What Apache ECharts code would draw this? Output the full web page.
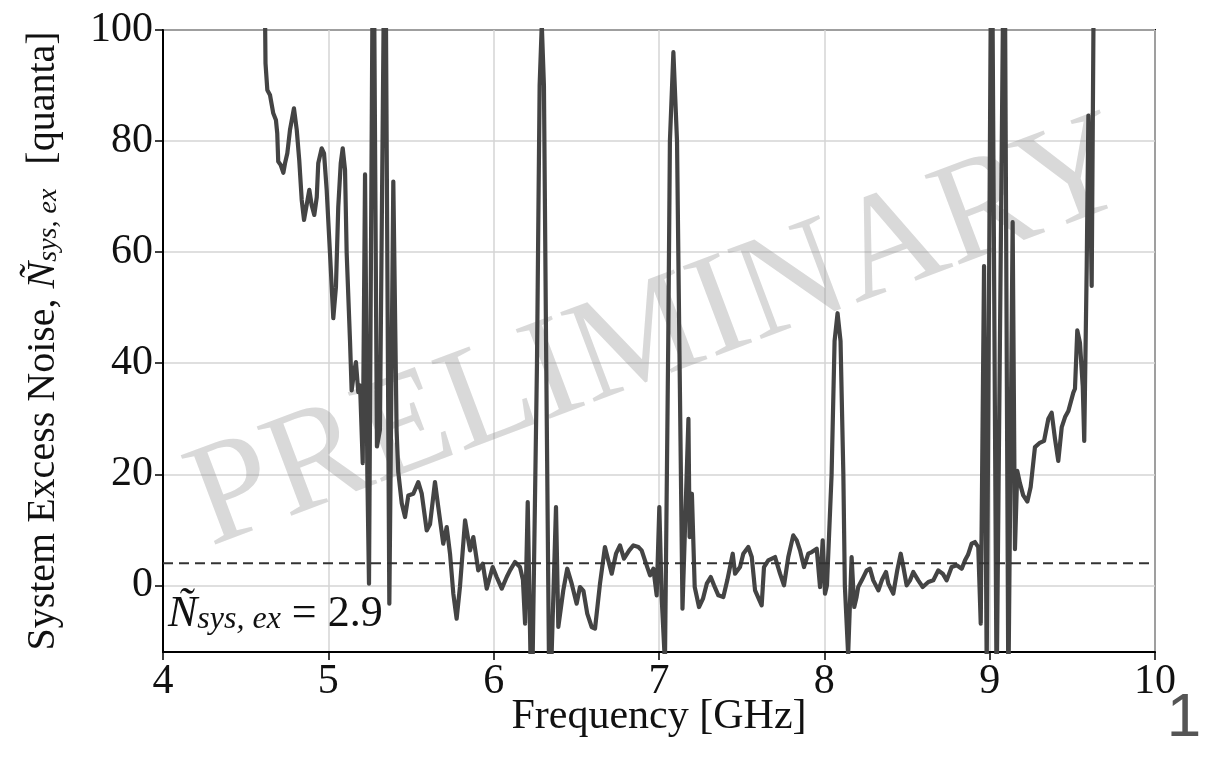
<!DOCTYPE html>
<html>
<head>
<meta charset="utf-8">
<script src="https://cdn.jsdelivr.net/npm/echarts@6/dist/echarts.min.js"></script>
<style>
  html, body { margin: 0; padding: 0; background: #fff; }
  #chart { width: 1209px; height: 758px; }
</style>
</head>
<body>
<div id="chart"></div>
<script>
// Measured system excess noise vs. frequency
const freqGHz = [
  4.612, 4.620, 4.631, 4.647, 4.667, 4.683, 4.691, 4.697, 4.712, 4.728,
  4.738, 4.752, 4.768, 4.792, 4.809, 4.824, 4.839, 4.853, 4.869, 4.885,
  4.899, 4.915, 4.930, 4.939, 4.960, 4.974, 4.990, 5.010, 5.030, 5.046,
  5.060, 5.075, 5.087, 5.101, 5.111, 5.131, 5.141, 5.156, 5.167, 5.181,
  5.192, 5.208, 5.222, 5.236, 5.246, 5.272, 5.294, 5.312, 5.343, 5.369,
  5.393, 5.413, 5.423, 5.444, 5.464, 5.484, 5.514, 5.544, 5.565, 5.595,
  5.615, 5.645, 5.665, 5.695, 5.716, 5.736, 5.756, 5.776, 5.796, 5.827,
  5.857, 5.877, 5.907, 5.934, 5.958, 5.994, 6.018, 6.049, 6.079, 6.099,
  6.129, 6.159, 6.177, 6.190, 6.206, 6.230, 6.262, 6.278, 6.291, 6.304,
  6.318, 6.338, 6.356, 6.377, 6.391, 6.421, 6.445, 6.472, 6.502, 6.522,
  6.543, 6.566, 6.593, 6.613, 6.643, 6.673, 6.693, 6.714, 6.740, 6.764,
  6.788, 6.820, 6.845, 6.875, 6.895, 6.915, 6.946, 6.966, 6.986, 7.002,
  7.016, 7.036, 7.056, 7.066, 7.087, 7.109, 7.123, 7.142, 7.178, 7.185,
  7.199, 7.216, 7.242, 7.266, 7.289, 7.313, 7.333, 7.359, 7.389, 7.413,
  7.446, 7.460, 7.490, 7.510, 7.540, 7.561, 7.581, 7.621, 7.635, 7.661,
  7.702, 7.732, 7.756, 7.782, 7.812, 7.833, 7.853, 7.877, 7.903, 7.924,
  7.954, 7.974, 7.990, 8.004, 8.016, 8.044, 8.062, 8.080, 8.098, 8.115,
  8.124, 8.144, 8.165, 8.181, 8.195, 8.205, 8.228, 8.256, 8.276, 8.296,
  8.327, 8.349, 8.373, 8.387, 8.417, 8.441, 8.462, 8.478, 8.498, 8.518,
  8.538, 8.568, 8.595, 8.629, 8.659, 8.689, 8.716, 8.740, 8.770, 8.801,
  8.831, 8.851, 8.869, 8.891, 8.911, 8.931, 8.946, 8.966, 8.982, 9.012,
  9.042, 9.089, 9.113, 9.139, 9.153, 9.167, 9.183, 9.203, 9.228, 9.248,
  9.274, 9.300, 9.329, 9.355, 9.375, 9.395, 9.415, 9.436, 9.456, 9.476,
  9.506, 9.516, 9.530, 9.546, 9.563, 9.572, 9.587, 9.597, 9.607, 9.617,
  9.631
];
const excessNoise = [
  118, 94, 89.2, 88.3, 85, 83.8, 81.4, 76.3, 75.7, 74.3,
  76, 77.8, 82, 85.9, 82, 76.6, 69.4, 65.8, 68.5, 71.2,
  68.5, 66.7, 69.9, 76, 78.7, 77.8, 71.2, 59.8, 48.1, 53.7,
  68.1, 76, 78.7, 74.8, 59.8, 44.1, 35.1, 38.5, 40.2, 34.8,
  36, 22, 74, 20, 0.3, 130, 25, 28, 130, -3.3,
  72.7, 27.8, 20.4, 14.8, 12.3, 16.2, 16.5, 18.6, 16.5, 9.9,
  11, 18.6, 14.1, 7.5, 10.5, 5.7, -1.5, -6, -0.3, 11.7,
  6.3, 8.7, 2.7, 3.9, -0.6, 3.3, 1.5, -0.6, 1.5, 2.7,
  4.2, 3.3, 1, -6.9, 15, -25, 40, 90, 101, 90,
  40, -25, -6.9, 14.1, -7.5, -0.9, 3, 0.3, -3.3, -0.3,
  -1, -5.1, -7.5, -7.8, 0.3, 6.9, 4.5, 2.1, 5.7, 7.2,
  4.8, 6.3, 7.2, 6.9, 6.3, 4.5, 1.8, 3, -1.8, 14.1,
  -2.1, -14, 44, 80, 96, 80, 44, -4.2, 30, 8.7,
  16.5, -0.3, -3.9, -2.4, 0.3, 1.5, 0, -1.8, -2.1, 0.9,
  5.7, 2.1, 3.3, 5.7, 6.9, 5.1, -0.9, -3.6, 3.3, 4.5,
  5.1, 2.1, 0, 5.1, 9, 8.1, 6.3, 3.3, 5.7, 6,
  6.6, -0.3, 8.1, -1.5, 0, 20, 44, 49, 44, 20,
  0, -12.5, 5.1, -3.9, -2.1, -0.3, 1, 2.7, 3, 0.9,
  -0.9, 1, 2.4, 0.3, -1.5, 2.7, 5.7, 3.3, 0, 0.9,
  2.4, 0.9, -0.3, 0.6, 0.9, 2.7, 2.1, 0.9, 3.3, 3.6,
  3, 4.5, 5.5, 7.5, 7.8, 6.9, -6.9, 57.5, -15, 130,
  -20, 130, -20, 65.4, 6.5, 20.6, 18.4, 16.2, 15.1, 17.7,
  24.9, 25.6, 26, 30, 31.1, 26.4, 22.4, 28.5, 30.3, 31.4,
  34.7, 35.4, 45.9, 43.7, 35.8, 26, 57.5, 84.6, 75, 53.9,
  115
];

// Reference level drawn as a dashed line, and the quoted median value
const referenceLevel = 4.0;
const quotedNoise = 2.9;

// Axis ranges and tick labels
const xRange = [4, 10];
const yRange = [-12, 100];
const xTicks = [4, 5, 6, 7, 8, 9, 10];
const yTicks = [0, 20, 40, 60, 80, 100];

const serif = '"Liberation Serif", "DejaVu Serif", serif';
const ink = '#111';

const noiseData = freqGHz.map((f, i) => [f, excessNoise[i]]);
const levelData = [[xRange[0], referenceLevel], [xRange[1], referenceLevel]];

const chart = echarts.init(document.getElementById('chart'), null, { renderer: 'canvas' });

chart.setOption({
  animation: false,
  backgroundColor: '#ffffff',
  grid: {
    left: 163, right: 54, top: 30, bottom: 106,
    show: true, borderColor: '#000', borderWidth: 2, backgroundColor: 'transparent'
  },
  xAxis: {
    type: 'value',
    min: xRange[0], max: xRange[1], interval: 1,
    name: 'Frequency [GHz]',
    nameLocation: 'middle',
    nameGap: 44,
    nameMoveOverlap: false,
    nameTextStyle: { fontFamily: serif, fontSize: 42, color: ink, verticalAlign: 'top' },
    axisLine: { show: true, onZero: false, lineStyle: { color: '#000', width: 2 } },
    axisTick: { show: true, inside: false, length: 8, lineStyle: { color: '#000', width: 1.5 }, customValues: xTicks },
    axisLabel: { fontFamily: serif, fontSize: 42, color: ink, margin: 9, customValues: xTicks },
    splitLine: { show: true, lineStyle: { color: '#d4d4d4', width: 1.5 } }
  },
  yAxis: {
    type: 'value',
    min: yRange[0], max: yRange[1],
    name: 'System Excess Noise, {it|Ñ}{sub|sys, ex} [quanta]',
    nameLocation: 'middle',
    nameRotate: 90,
    nameGap: 100,
    nameTextStyle: {
      fontFamily: serif, fontSize: 40, color: ink,
      rich: {
        it: { fontFamily: serif, fontSize: 40, fontStyle: 'italic', color: ink },
        sub: { fontFamily: serif, fontSize: 28, fontStyle: 'italic', color: ink, verticalAlign: 'bottom', padding: [0, 14, 0, 0] }
      }
    },
    axisLine: { show: true, onZero: false, lineStyle: { color: '#000', width: 2 } },
    axisTick: { show: true, inside: false, length: 8, lineStyle: { color: '#000', width: 1.5 }, customValues: yTicks },
    axisLabel: { fontFamily: serif, fontSize: 42, color: ink, margin: 10, customValues: yTicks },
    splitLine: { show: true, lineStyle: { color: '#d4d4d4', width: 1.5 } }
  },
  graphic: [
    {
      type: 'text',
      x: 660, y: 336,
      rotation: 0.36,
      z: 1,
      silent: true,
      style: {
        text: 'PRELIMINARY',
        fontFamily: serif, fontSize: 146,
        fill: 'rgba(150,150,150,0.36)',
        align: 'center', verticalAlign: 'middle'
      }
    },
    {
      type: 'text',
      left: 168, top: 592,
      z: 10,
      style: {
        text: '{it|Ñ}{sub|sys, ex}{n| = ' + quotedNoise + '}',
        rich: {
          it: { fontFamily: serif, fontSize: 44, fontStyle: 'italic', fill: ink },
          sub: { fontFamily: serif, fontSize: 32, fontStyle: 'italic', fill: ink, verticalAlign: 'bottom' },
          n: { fontFamily: serif, fontSize: 44, fill: ink }
        }
      }
    },
    {
      type: 'text',
      x: 1184, y: 719,
      style: {
        text: '1',
        fontFamily: '"Liberation Sans", Arial, sans-serif', fontSize: 62,
        fill: '#555', align: 'center', verticalAlign: 'middle'
      }
    }
  ],
  series: [
    {
      type: 'line',
      data: noiseData,
      showSymbol: false,
      clip: true,
      z: 3,
      lineStyle: { color: '#444', width: 4.2, join: 'round', cap: 'round' }
    },
    {
      type: 'line',
      data: levelData,
      showSymbol: false,
      z: 4,
      lineStyle: { color: '#333', width: 2, type: [10, 6] }
    }
  ]
});
</script>
</body>
</html>
